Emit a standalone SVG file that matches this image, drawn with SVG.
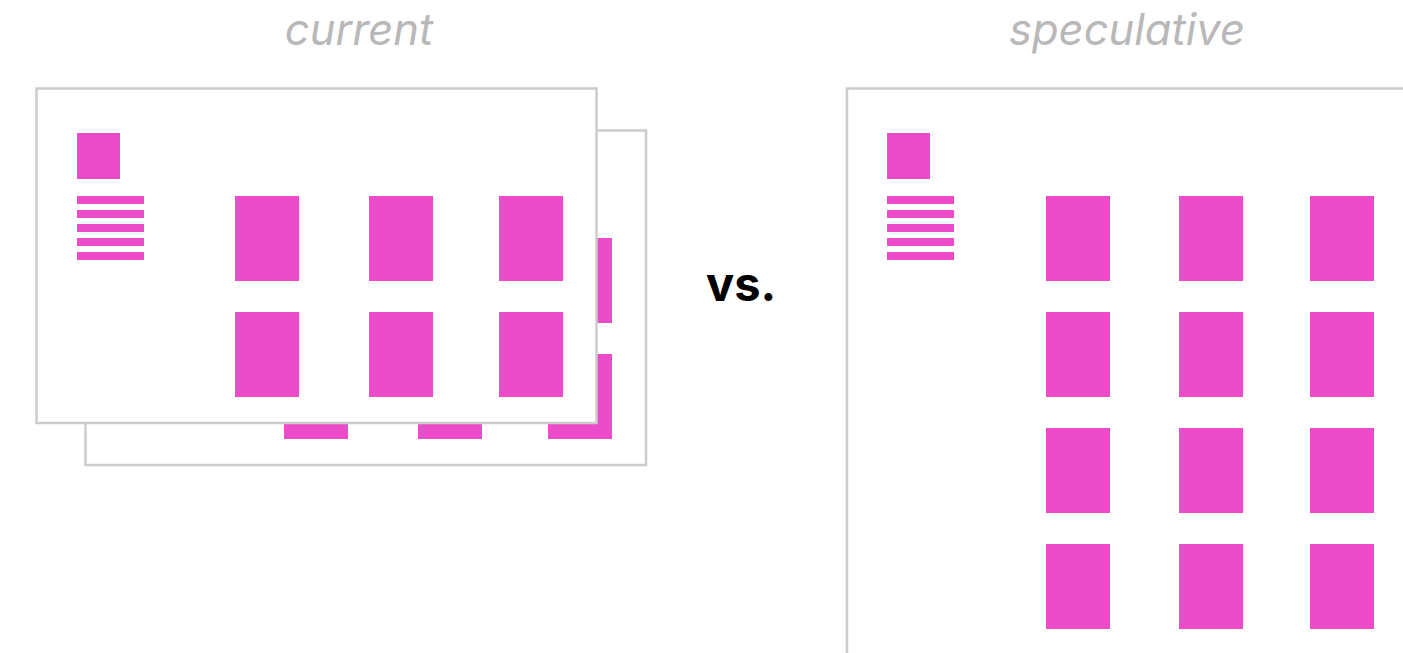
<svg xmlns="http://www.w3.org/2000/svg" width="1403" height="653" viewBox="0 0 1403 653">
<style>
.frame{fill:#fff;stroke:#cccccc;stroke-width:2.5}
.p{fill:#ec4cca}
.title{font-family:Inter,"Liberation Sans",sans-serif;font-style:italic;font-weight:400;font-size:43.5px;fill:#b8b8b8;text-anchor:middle}
.vs{font-family:Inter,"Liberation Sans",sans-serif;font-weight:700;font-size:47px;fill:#000}
</style>
<defs>
<g id="sidebar">
<rect class="p" x="0" y="0" width="43" height="46"/>
<rect class="p" x="0" y="63" width="67" height="8"/>
<rect class="p" x="0" y="77" width="67" height="8"/>
<rect class="p" x="0" y="91" width="67" height="8"/>
<rect class="p" x="0" y="105" width="67" height="8"/>
<rect class="p" x="0" y="119" width="67" height="8"/>
</g>
<g id="row">
<rect class="p" x="0" y="0" width="64" height="85"/>
<rect class="p" x="134" y="0" width="64" height="85"/>
<rect class="p" x="264" y="0" width="64" height="85"/>
</g>
<g id="row2">
<rect class="p" x="0" y="0" width="64" height="85"/>
<rect class="p" x="133" y="0" width="64" height="85"/>
<rect class="p" x="264" y="0" width="64" height="85"/>
</g>
</defs>
<text id="title-current" class="title" x="359" y="45">current</text>
<text id="title-speculative" class="title" x="1127" y="45">speculative</text>
<g id="current-back">
<rect class="frame" x="85.5" y="130.5" width="560.5" height="334.5"/>
<use href="#row" x="284" y="238"/>
<use href="#row" x="284" y="354"/>
</g>
<g id="current-front">
<rect class="frame" x="36.5" y="88.5" width="560" height="334.5"/>
<use href="#sidebar" x="77" y="133"/>
<use href="#row" x="235" y="196"/>
<use href="#row" x="235" y="312"/>
</g>
<g id="vs">
<text class="vs" x="706" y="301">vs.</text>
</g>
<g id="speculative">
<rect class="frame" x="847" y="88.5" width="620" height="620"/>
<use href="#sidebar" x="887" y="133"/>
<use href="#row2" x="1046" y="196"/>
<use href="#row2" x="1046" y="312"/>
<use href="#row2" x="1046" y="428"/>
<use href="#row2" x="1046" y="544"/>
</g>
</svg>
